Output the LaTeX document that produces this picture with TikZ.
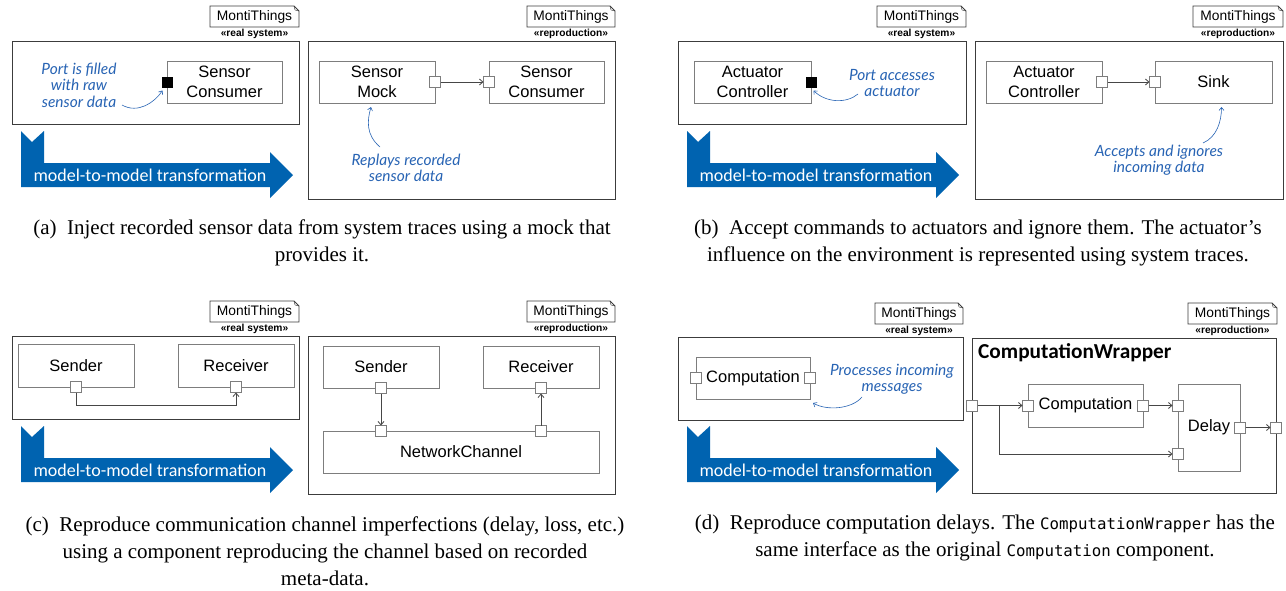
\documentclass[tikz,border=0pt]{standalone}
\usepackage{fontspec}
\setmainfont{Liberation Serif}
\setmonofont[Scale=0.75]{DejaVu Sans Mono}
\newfontfamily\compfont{Liberation Sans}
\newfontfamily\trafofont{Carlito}
\newfontfamily\notefont{Lato}
\usepackage{tikz}
\usetikzlibrary{positioning,arrows.meta}

\definecolor{trafoblue}{RGB}{0,99,176}
\definecolor{noteblue}{RGB}{40,100,180}
\definecolor{compgray}{RGB}{125,125,125}
\definecolor{framegray}{RGB}{60,60,60}
\definecolor{wiregray}{RGB}{70,70,70}

\tikzset{
	outer/.style={draw=framegray, line width=1pt, anchor=north west, inner sep=0pt, outer sep=0pt},
	comp/.style={draw=compgray, line width=0.9pt, anchor=north west, minimum height=42pt, align=center,
		font=\compfont\fontsize{16.5}{20}\selectfont, inner sep=0pt, outer sep=0pt},
	port/.style={draw=compgray, fill=white, line width=0.8pt, minimum size=11pt, inner sep=0pt, outer sep=0pt},
	bport/.style={fill=black, minimum size=11pt, inner sep=0pt, outer sep=0pt},
	conn/.style={draw=wiregray, line width=0.8pt, -{Straight Barb[length=3.5pt,width=6pt]}},
	note/.style={text=noteblue, align=center, font=\notefont\itshape\fontsize{15.5}{16.5}\selectfont, inner sep=0pt},
	notearrow/.style={draw=noteblue, line width=0.6pt, -{Straight Barb[length=3pt,width=5pt]}},
	tagbox/.style={anchor=north west, minimum height=21pt, inner sep=0pt, outer sep=0pt,
		font=\compfont\fontsize{13.8}{15}\selectfont},
	tagline/.style={draw=framegray, line width=0.8pt},
	stereo/.style={font=\compfont\bfseries\fontsize{10.2}{11}\selectfont, inner sep=0pt, anchor=north},
	trafo/.style={fill=trafoblue, draw=none},
	trafotext/.style={text=white, font=\trafofont\fontsize{18}{20}\selectfont, inner sep=0pt},
	caption/.style={align=center, font=\fontsize{21}{27}\selectfont, inner sep=0pt},
}

\begin{document}
\begin{tikzpicture}[x=1pt,y=-1pt]
	\fill[white] (0,0) rectangle (1286,590);
	\useasboundingbox (0,0) rectangle (1286,590);
	%% MontiThings tags
	\foreach \tx/\ty/\tw/\st [count=\i] in {210/6/89/real system, 527/6/88/reproduction,
		877/6/89/real system, 1193/6/90/reproduction, 210/301/89/real system,
		527/301/88/reproduction, 875/303/88/real system, 1188/303/89/reproduction}{
		\node[tagbox, minimum width=\tw pt] (tag\i) at (\tx,\ty) {MontiThings};
		\draw[tagline] (tag\i.north west) -- ([xshift=-5pt]tag\i.north east)
			-- ([yshift=-5pt]tag\i.north east) -- (tag\i.south east) -- (tag\i.south west) -- cycle;
		\draw[tagline, line width=0.4pt] ([xshift=-5pt]tag\i.north east) -- ([xshift=-4pt,yshift=-4pt]tag\i.north east)
			-- ([yshift=-5pt]tag\i.north east);
		\node[stereo] (st\i) at ([yshift=-1.5pt]tag\i.south) {«\st»};
	}
	%% model-to-model arrows
	\foreach \dx/\dy [count=\i] in {0/0, 666/0, 0/295, 666/295}{
		\begin{scope}[shift={(\dx,\dy)}]
			\fill[trafo] (21,131) -- (32,142) -- (44,131) -- (44,163) -- (270,163) -- (270,152)
				-- (293,175) -- (270,198) -- (270,187) -- (21,187) -- cycle;
			\node[trafotext] (m2m\i) at (150,175) {model-to-model transformation};
		\end{scope}
	}

	%% fig a
	\node[outer, minimum width=287pt, minimum height=83pt] (ra) at (12,41) {};
	\node[comp, minimum width=115pt] (sca) at (167,61) {Sensor\\Consumer};
	\node[bport] (pa) at (sca.west) {};
	\node[note] (nta) at (79,85) {Port is filled\\with raw\\sensor data};
	\coordinate (nsa) at (122,105);
	\draw[notearrow] (nsa) .. controls +(16,9) and +(-8,12) .. ([shift={(1,3)}]pa.south west);

	\node[outer, minimum width=307pt, minimum height=158pt] (rpa) at (308,41) {};
	\node[comp, minimum width=116pt] (sma) at (319,61) {Sensor\\Mock};
	\node[port] (smpa) at (sma.east) {};
	\node[comp, minimum width=115pt] (scb) at (489,61) {Sensor\\Consumer};
	\node[port] (scpa) at (scb.west) {};
	\draw[conn] (smpa) -- (scpa);
	\node[note] (ntb) at (406,168) {Replays recorded\\sensor data};
	\coordinate (nsb) at (380,147);
	\draw[notearrow] (nsb) .. controls +(-14,-12) and +(-4,14) .. ([shift={(-6,4)}]sma.south);

	%% fig b
	\node[outer, minimum width=288pt, minimum height=83pt] (rb) at (678,41) {};
	\node[comp, minimum width=117pt] (acb) at (694,61) {Actuator\\Controller};
	\node[bport] (pb) at (acb.east) {};
	\node[note] (ntc) at (892,83) {Port accesses\\actuator};
	\coordinate (nsc) at (858,94);
	\draw[notearrow] (nsc) .. controls +(-12,10) and +(12,12) .. ([shift={(-3,3)}]pb.south east);

	\node[outer, minimum width=308pt, minimum height=158pt] (rpb) at (975,41) {};
	\node[comp, minimum width=116pt] (acr) at (986,61) {Actuator\\Controller};
	\node[port] (acpb) at (acr.east) {};
	\node[comp, minimum width=117pt] (sk) at (1155,61) {Sink};
	\node[port] (skp) at (sk.west) {};
	\draw[conn] (acpb) -- (skp);
	\node[note] (ntd) at (1159,160) {Accepts and ignores\\incoming data};
	\coordinate (nsd) at (1203,143);
	\draw[notearrow] (nsd) .. controls +(14,-6) and +(0,14) .. ([shift={(8,4)}]sk.south);

	%% fig c
	\node[outer, minimum width=287pt, minimum height=83pt] (rc) at (12,336) {};
	\node[comp, minimum width=116pt, minimum height=43pt] (sdc) at (18,344) {Sender};
	\node[port] (sdpc) at (sdc.south) {};
	\node[comp, minimum width=116pt, minimum height=43pt] (rcc) at (178,344) {Receiver};
	\node[port] (rcpc) at (rcc.south) {};
	\draw[conn] (sdpc.south) -- ++(0,13) -| (rcpc.south);

	\node[outer, minimum width=307pt, minimum height=158pt] (rpc) at (308,336) {};
	\node[comp, minimum width=116pt] (sdr) at (323,346) {Sender};
	\node[port] (sdpr) at (sdr.south) {};
	\node[comp, minimum width=116pt] (rcr) at (483,346) {Receiver};
	\node[port] (rcpr) at (rcr.south) {};
	\node[comp, minimum width=276pt] (nch) at (323,431) {NetworkChannel};
	\node[port] (ncpa) at (sdpr |- nch.north) {};
	\node[port] (ncpb) at (rcpr |- nch.north) {};
	\draw[conn] (sdpr) -- (ncpa);
	\draw[conn] (ncpb) -- (rcpr);

	%% fig d
	\node[outer, minimum width=285pt, minimum height=83pt] (rd) at (678,337) {};
	\node[comp, minimum width=114pt] (cpd) at (696,357) {Computation};
	\node[port] (cpda) at (cpd.west) {};
	\node[port] (cpdb) at (cpd.east) {};
	\node[note] (nte) at (892,379) {Processes incoming\\messages};
	\coordinate (nse) at (862,397);
	\draw[notearrow] (nse) .. controls +(-10,12) and +(14,8) .. ([shift={(3,4)}]cpd.south east);

	\node[outer, minimum width=304pt, minimum height=155pt] (rpd) at (972,338) {};
	\node[anchor=west, inner sep=0pt, font=\trafofont\bfseries\fontsize{21.3}{23}\selectfont] (cwt) at (978,353) {ComputationWrapper};
	\node[comp, minimum width=115pt, minimum height=43pt] (cpr) at (1028,384) {Computation};
	\node[port] (cppa) at (cpr.west) {};
	\node[port] (cppb) at (cpr.east) {};
	\node[comp, minimum width=62pt, minimum height=87pt] (dly) at (1178,384) {Delay};
	\node[port] (dlpa) at (dly.west |- cppb) {};
	\node[port] (dlpb) at ([yshift=-70pt]dly.north west) {};
	\node[port] (dlpo) at (dly.east) {};
	\node[port] (wpa) at (rpd.west |- cppa) {};
	\node[port] (wpb) at (rpd.east |- dlpo) {};
	\draw[conn] (wpa) -- (cppa);
	\draw[conn] (wpa.east) -- ++(22,0) |- (dlpb);
	\draw[conn] (cppb) -- (dlpa);
	\draw[conn] (dlpo) -- (wpb);

	%% captions
	\node[caption] (capa) at (322,242.5) {(a)\enspace Inject recorded sensor data from system traces using a mock that\\provides it.};
	\node[caption] (capb) at (978,242.5) {(b)\enspace Accept commands to actuators and ignore them. The actuator’s\\influence on the environment is represented using system traces.};
	\node[caption] (capc) at (325,551) {(c)\enspace Reproduce communication channel imperfections (delay, loss, etc.)\\using a component reproducing the channel based on recorded\\meta-data.};
	\node[caption] (capd) at (985,537.5) {(d)\enspace Reproduce computation delays. The \texttt{ComputationWrapper} has the\\same interface as the original \texttt{Computation} component.};
\end{tikzpicture}
\end{document}
